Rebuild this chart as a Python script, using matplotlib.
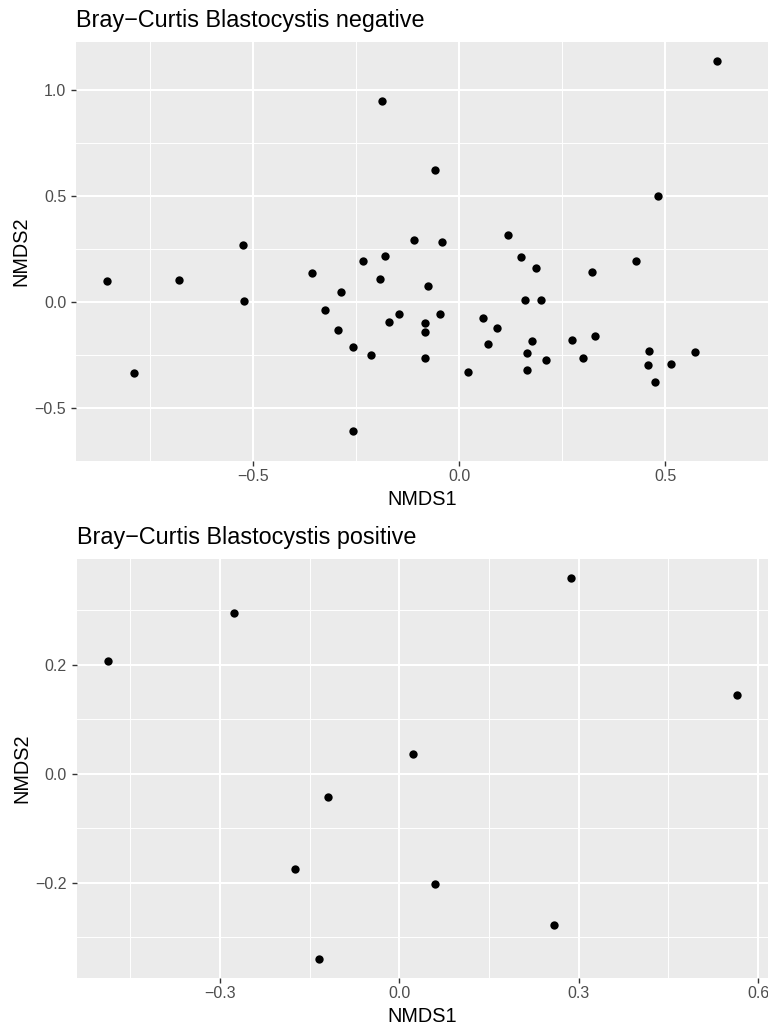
import matplotlib
matplotlib.use("Agg")
import matplotlib.pyplot as plt

plt.rcParams['font.family'] = ['Liberation Sans', 'DejaVu Sans']

# NMDS scores, Blastocystis negative samples
neg_x = [-0.188, -0.524, 0.627, -0.059, 0.482, -0.110, -0.041, 0.118,
         -0.856, -0.679, -0.523, -0.790, -0.356, -0.234, -0.179, -0.191,
         -0.287, -0.325, -0.146, -0.169, -0.294, -0.257, -0.213, -0.257,
         0.150, 0.186, 0.322, 0.430, -0.075, -0.047, -0.082, -0.082,
         -0.083, 0.161, 0.198, 0.059, 0.092, 0.071, 0.021, 0.176,
         0.165, 0.165, 0.212, 0.274, 0.330, 0.301, 0.460, 0.458,
         0.475, 0.514, 0.572]
neg_y = [0.949, 0.268, 1.140, 0.622, 0.498, 0.291, 0.285, 0.316,
         0.099, 0.105, 0.003, -0.335, 0.135, 0.191, 0.216, 0.110,
         0.047, -0.037, -0.056, -0.093, -0.134, -0.211, -0.249, -0.610,
         0.213, 0.162, 0.142, 0.194, 0.073, -0.057, -0.102, -0.143,
         -0.267, 0.007, 0.009, -0.076, -0.125, -0.198, -0.329, -0.183,
         -0.241, -0.323, -0.275, -0.182, -0.159, -0.266, -0.232, -0.297,
         -0.378, -0.292, -0.235]

# Blastocystis positive samples
pos_x = [-0.487, -0.277, 0.023, -0.119, -0.175, -0.135, 0.287, 0.564, 0.059, 0.258]
pos_y = [0.207, 0.295, 0.036, -0.042, -0.175, -0.339, 0.358, 0.144, -0.202, -0.278]

neg_xticks = [-0.5, 0.0, 0.5]
neg_xminor = [-0.75, -0.25, 0.25, 0.75]
neg_yticks = [-0.5, 0.0, 0.5, 1.0]
neg_yminor = [-0.75, -0.25, 0.25, 0.75]
pos_xticks = [-0.3, 0.0, 0.3, 0.6]
pos_xminor = [-0.45, -0.15, 0.15, 0.45]
pos_yticks = [-0.2, 0.0, 0.2]
pos_yminor = [-0.3, -0.1, 0.1, 0.3]


def lab(v):
    return f"{v:.1f}".replace('-', '\u2212')


def expand(vals, f=0.05):
    lo, hi = min(vals), max(vals)
    d = (hi - lo) * f
    return lo - d, hi + d


def nmds_panel(ax, x, y, xt, xm, yt, ym, title):
    ax.set_facecolor('#EBEBEB')
    for s in ax.spines.values():
        s.set_visible(False)
    ax.scatter(x, y, s=36, color='black', linewidths=0, zorder=3)
    ax.set_xlim(*expand(x))
    ax.set_ylim(*expand(y))
    ax.set_xticks(xt, [lab(v) for v in xt])
    ax.set_yticks(yt, [lab(v) for v in yt])
    ax.set_xticks(xm, minor=True)
    ax.set_yticks(ym, minor=True)
    ax.grid(which='major', color='white', lw=1.45)
    ax.grid(which='minor', color='white', lw=0.7)
    ax.set_axisbelow(True)
    ax.tick_params(which='major', length=3.6, width=1.0, color='#333333',
                   labelcolor='#4D4D4D', labelsize=11.5)
    ax.tick_params(axis='x', which='major', pad=2.5)
    ax.tick_params(axis='y', which='major', pad=3.5)
    ax.tick_params(which='minor', length=0)
    ax.set_xlabel('NMDS1', fontsize=14.3, va='baseline')
    ax.set_ylabel('NMDS2', fontsize=14.3, va='center')
    ax.xaxis.set_label_coords(0.5, -0.105)
    ax.yaxis.set_label_coords(-0.080, 0.5)
    ax.set_title(title, loc='left', fontsize=16.8, pad=10.8)


fig = plt.figure(figsize=(7.68, 10.28), dpi=100)
ax1 = fig.add_axes([76 / 768, 1 - 460.7 / 1028, 692 / 768, 418.7 / 1028])
ax2 = fig.add_axes([76.7 / 768, 1 - 977.7 / 1028, 691.3 / 768, 418.4 / 1028])

nmds_panel(ax1, neg_x, neg_y, neg_xticks, neg_xminor, neg_yticks, neg_yminor,
           'Bray\u2212Curtis Blastocystis negative')
nmds_panel(ax2, pos_x, pos_y, pos_xticks, pos_xminor, pos_yticks, pos_yminor,
           'Bray\u2212Curtis Blastocystis positive')

fig.savefig('out.png', dpi=100)
